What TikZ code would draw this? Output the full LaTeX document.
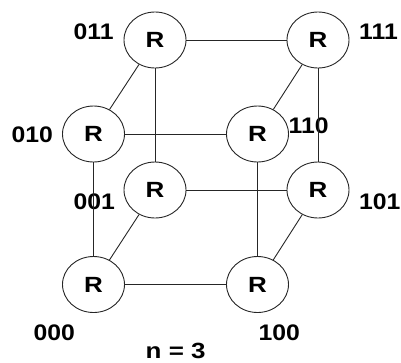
\documentclass[tikz,border=0pt]{standalone}
\usepackage{fontspec}
\usepackage{graphicx}
\setmainfont{Liberation Sans}
\usetikzlibrary{shapes.geometric}
\newcommand{\widetxt}[2][1.1]{\scalebox{#1}[1]{#2}}
\begin{document}
\begin{tikzpicture}[x=1pt,y=-1pt,
  router/.style={ellipse,draw=black!85,line width=0.9pt,fill=white,minimum width=62pt,minimum height=56pt,inner sep=0pt,font=\fontsize{22}{22}\selectfont\bfseries},
  addr/.style={anchor=base west,inner sep=0pt,font=\fontsize{22.5}{22.5}\selectfont\bfseries},
  link/.style={draw=black!85,line width=0.9pt}]
\useasboundingbox (0,0) rectangle (401,362);
\node[router] (r011) at (155,40) {\widetxt[1.18]{R}};
\node[router] (r111) at (318,40) {\widetxt[1.18]{R}};
\node[router] (r010) at (93.5,134) {\widetxt[1.18]{R}};
\node[router] (r110) at (257.5,134) {\widetxt[1.18]{R}};
\node[router] (r001) at (155,190) {\widetxt[1.18]{R}};
\node[router] (r101) at (318,190) {\widetxt[1.18]{R}};
\node[router] (r000) at (93.5,284.5) {\widetxt[1.18]{R}};
\node[router] (r100) at (257.5,284.5) {\widetxt[1.18]{R}};
\node[addr] (l011) at (73.5,39) {\widetxt{011}};
\node[addr] (l111) at (359,39) {\widetxt{111}};
\node[addr] (l010) at (11.5,142) {\widetxt{010}};
\node[addr] (l110) at (288.5,133) {\widetxt{110}};
\node[addr] (l001) at (73.5,209) {\widetxt{001}};
\node[addr] (l101) at (359,209) {\widetxt{101}};
\node[addr] (l000) at (33.5,340) {\widetxt{000}};
\node[addr] (l100) at (258.5,340) {\widetxt{100}};
\node[addr,font=\fontsize{22}{22}\selectfont\bfseries] (cap) at (145.5,358) {\widetxt[1.18]{n = 3}};
\draw[link] (r011) -- (r111);
\draw[link] (r011) -- (r010);
\draw[link] (r011) -- (r001);
\draw[link] (r111) -- (r110);
\draw[link] (r111) -- (r101);
\draw[link] (r010) -- (r110);
\draw[link] (r010) -- (r000);
\draw[link] (r110) -- (r100);
\draw[link] (r001) -- (r101);
\draw[link] (r001) -- (r000);
\draw[link] (r101) -- (r100);
\draw[link] (r000) -- (r100);
\end{tikzpicture}
\end{document}
